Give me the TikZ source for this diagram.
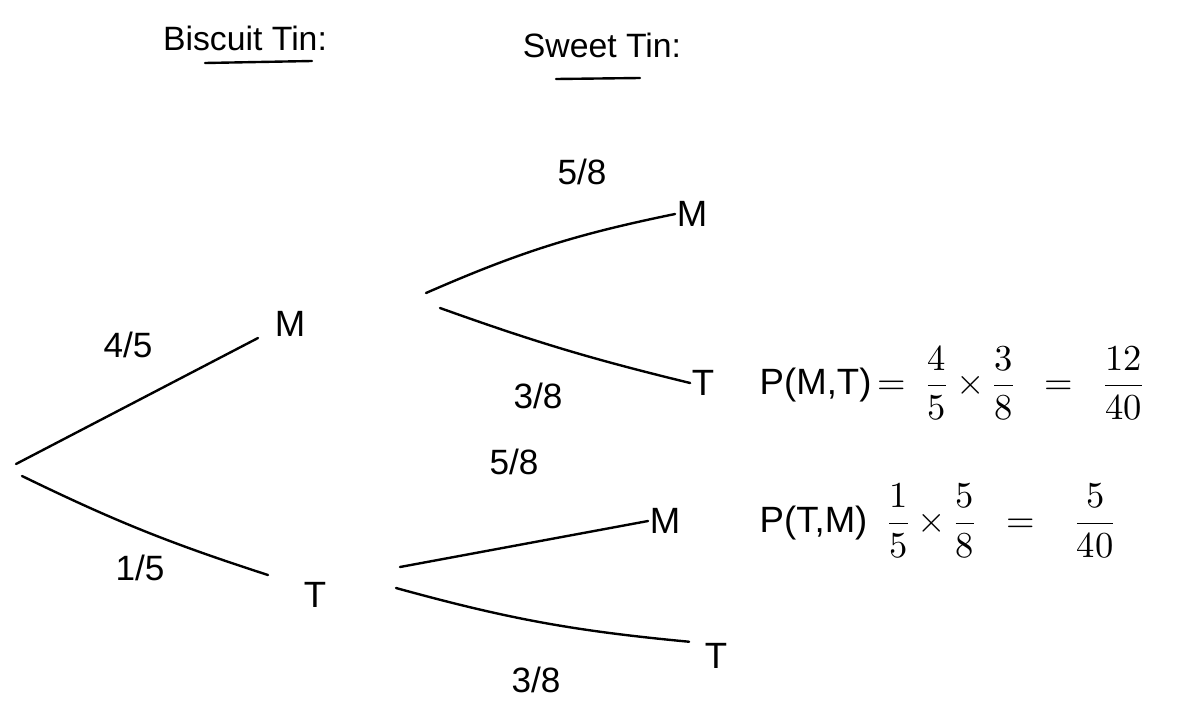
\documentclass[tikz,border=0pt]{standalone}
\usepackage{unicode-math}
\setmainfont{Liberation Sans}
\usetikzlibrary{positioning}
\tikzset{
  lab/.style={font=\fontsize{24}{28}\selectfont, inner sep=1pt},
  outc/.style={lab, font=\fontsize{26}{30}\selectfont},
  prob/.style={lab, font=\fontsize{25}{30}\selectfont},
  eqn/.style={lab, anchor=west, font=\fontsize{26}{30}\selectfont},
  br/.style={draw=black, line width=1.7pt, line cap=round},
  ul/.style={draw=black, line width=1.7pt, line cap=round}
}
\begin{document}
\begin{tikzpicture}[x=0.025cm, y=-0.025cm]
  \useasboundingbox (0,0) rectangle (1177,723);
  % headings
  \node[lab] (hbis) at (245,38) {Biscuit Tin:};
  \node[lab] (hswt) at (602,45) {Sweet Tin:};
  \coordinate (ubisL) at (205,63);  \coordinate (ubisR) at (312,61);
  \coordinate (uswtL) at (556,79);  \coordinate (uswtR) at (640,78);
  \draw[ul] (ubisL) -- (ubisR);
  \draw[ul] (uswtL) -- (uswtR);

  % first stage
  \coordinate (root) at (16,464);
  \node[outc] (m1) at (290,324) {M};
  \node[outc] (t1) at (315,595) {T};
  \coordinate (m1in) at (258,338);
  \coordinate (t1in) at (268,575);
  \draw[br] (root) -- (m1in);
  \draw[br] (root) ++(6,12) coordinate (rootb) to[bend right=4] (t1in);
  \node[prob] (p45) at (128,345) {4/5};
  \node[prob] (p15) at (140,568) {1/5};

  % second stage after M
  \coordinate (mfork) at (426,293);
  \coordinate (mforkb) at (440,308);
  \node[outc] (mm) at (692,214) {M};
  \node[outc] (mt) at (703,383) {T};
  \draw[br] (mfork) to[bend left=6] (mm.west);
  \draw[br] (mforkb) to[bend right=3] (mt.west);
  \node[prob] (p58a) at (582,172) {5/8};
  \node[prob] (p38a) at (538,396) {3/8};

  % second stage after T
  \coordinate (tfork) at (400,567);
  \coordinate (tforkb) at (396,588);
  \node[outc] (tm) at (665,521) {M};
  \node[outc] (tt) at (716,656) {T};
  \draw[br] (tfork) -- (tm.west);
  \draw[br] (tforkb) to[bend right=5] ([xshift=-10]tt.north west);
  \node[prob] (p58b) at (514,462) {5/8};
  \node[prob] (p38b) at (536,680) {3/8};

  % joint probabilities
  \node[eqn, right=30pt of mt] (emt) {P(M,T)\,$=\;\dfrac{4}{5}\times\dfrac{3}{8}\;\;=\;\;\dfrac{12}{40}$};
  \node[eqn, anchor=west] (etm) at (emt.west |- tm) {P(T,M)\;\;$\dfrac{1}{5}\times\dfrac{5}{8}\;\;=\;\;\;\dfrac{5}{40}$};
\end{tikzpicture}
\end{document}
